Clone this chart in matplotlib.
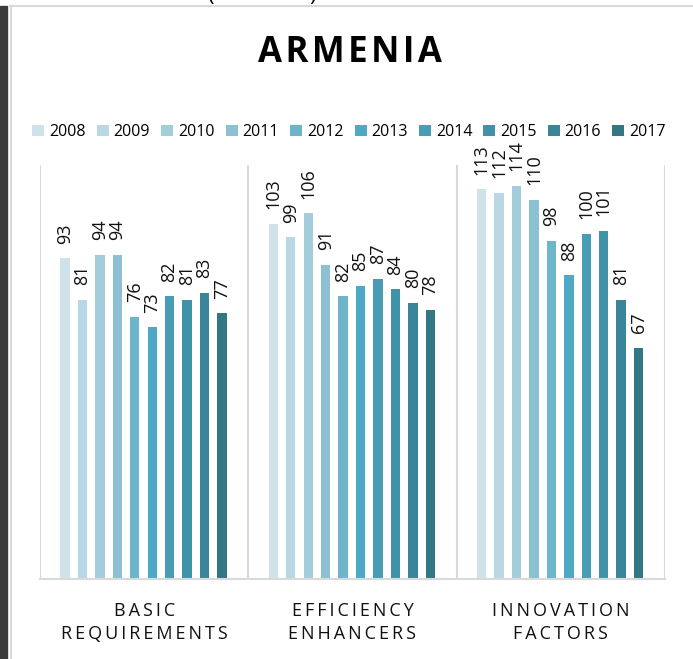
import matplotlib
matplotlib.use("Agg")
import matplotlib.pyplot as plt
from matplotlib.patches import Rectangle, Patch
from matplotlib.lines import Line2D

plt.rcParams['font.family'] = ['Open Sans', 'DejaVu Sans']

years = ["2008", "2009", "2010", "2011", "2012", "2013", "2014", "2015", "2016", "2017"]
categories = ["BASIC\nREQUIREMENTS", "EFFICIENCY\nENHANCERS", "INNOVATION\nFACTORS"]
basic = [93, 81, 94, 94, 76, 73, 82, 81, 83, 77]
efficiency = [103, 99, 106, 91, 82, 85, 87, 84, 80, 78]
innovation = [113, 112, 114, 110, 98, 88, 100, 101, 81, 67]
colors = ["#cfe2ea", "#b9d8e3", "#a4cddc", "#8cc1d3", "#6eb5cc",
          "#4da9c4", "#489db5", "#4092a8", "#3a8597", "#337684"]

W, H = 693, 659
fig = plt.figure(figsize=(W / 100, H / 100), dpi=100)

# page decorations
fig.patches.append(Rectangle((0, 0), 7 / W, (H - 6) / H, transform=fig.transFigure,
                             color="#3b3b3b", zorder=0))
fig.add_artist(Line2D([10.5 / W, 10.5 / W], [0, (H - 6) / H], transform=fig.transFigure,
                      color="#d9d9d9", lw=1.5))
fig.add_artist(Line2D([10 / W, 1], [(H - 6) / H, (H - 6) / H], transform=fig.transFigure,
                      color="#d9d9d9", lw=1.5))
fig.text(210 / W, (H + 4) / H, "(", fontsize=16, va="center", ha="center")
fig.text(313 / W, (H + 4) / H, ")", fontsize=16, va="center", ha="center")

ax = fig.add_axes([40 / W, (H - 579) / H, 625 / W, 414 / H])
series = [basic, efficiency, innovation]
step = 0.0837
bw = 0.045
for j, y in enumerate(years):
    xs = [i + 0.12 + j * step for i in range(len(categories))]
    vals = [s[j] for s in series]
    ax.bar(xs, vals, width=bw, color=colors[j], zorder=2)
    for x, v in zip(xs, vals):
        ax.annotate(str(v), (x, v), xytext=(0, 10.5), textcoords="offset points",
                    rotation=90, ha="center", va="bottom", fontsize=13, color="#111111")

ax.set_xlim(0, 3)
ax.set_ylim(0, 120)
for s in ["top", "right", "left"]:
    ax.spines[s].set_visible(False)
ax.spines["bottom"].set_color("#d9d9d9")
ax.spines["bottom"].set_linewidth(1.5)
for xv in [0, 1, 2, 3]:
    ax.axvline(xv, color="#d9d9d9", lw=1.5, zorder=1)
ax.set_yticks([])
ax.set_xticks([])

def spaced(t):
    return "\n".join("\u2009".join(list(line)) for line in t.split("\n"))

for i, c in enumerate(categories):
    ax.text(i + 0.5, -0.055, spaced(c), transform=ax.get_xaxis_transform(),
            ha="center", va="top", fontsize=13, color="#111111", linespacing=1.35)

fig.text(350 / W, (H - 53) / H, "\u200a".join("ARMENIA"), ha="center", va="center",
         fontsize=25, fontweight="bold", color="#000000")

handles = [Patch(facecolor=c, edgecolor="none") for c in colors]
fig.legend(handles, years, loc="center", bbox_to_anchor=(349 / W, (H - 132) / H), ncol=10,
           frameon=False, handlelength=0.75, handleheight=0.75, handletextpad=0.3,
           columnspacing=0.7, fontsize=11.5)

fig.savefig("out.png", dpi=100, facecolor="white")
